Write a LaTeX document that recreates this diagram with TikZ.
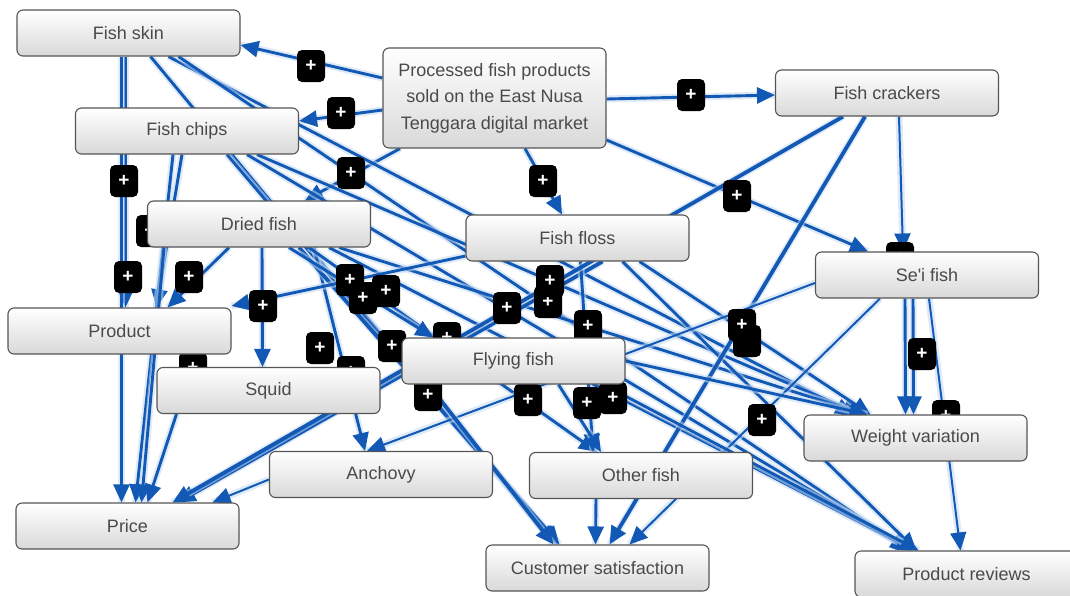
\documentclass[tikz,border=0pt]{standalone}
\usepackage{fontspec}
\setmainfont{Liberation Sans}
\usetikzlibrary{arrows.meta}
\definecolor{eblue}{HTML}{1258B5}
\definecolor{halo}{HTML}{C4DAF4}
\definecolor{txt}{HTML}{4A4A4A}
\definecolor{bord}{HTML}{555555}
\pgfdeclarelayer{bglayer}
\pgfdeclarelayer{edgelayer}
\pgfdeclarelayer{badgelayer}
\pgfsetlayers{bglayer,edgelayer,badgelayer,main}
\begin{document}
\begin{tikzpicture}[x=1pt,y=-1pt,
  box/.style={draw=bord, line width=1.1pt, rounded corners=6pt, top color=white, bottom color=black!15,
    minimum width=223pt, minimum height=46pt, inner sep=0pt, text=txt,
    font=\fontsize{18}{26.5}\selectfont, align=center},
  badge/.style={fill=black, rounded corners=5pt, minimum width=28pt, minimum height=32pt, inner sep=0pt,
    text=white, font=\fontsize{19}{19}\selectfont\bfseries},
  link/.style={draw=eblue, line width=2.9pt, -{Triangle[length=18pt,width=16pt]},
    preaction={draw=halo, line width=7pt, -, opacity=0.55}},
  heavylink/.style={link, line width=3.8pt},
  lightlink/.style={link, line width=2pt},
]
\useasboundingbox (0,0) rectangle (1070,595);
\begin{pgfonlayer}{bglayer}
\fill[white] (0,0) rectangle (1070,595);
\end{pgfonlayer}

% nodes
\node[box] (FS) at (128.5,33) {Fish skin};
\node[box, minimum height=100pt] (PF) at (494.5,98) {Processed fish products\\sold on the East Nusa\\Tenggara digital market};
\node[box] (CR) at (887,93) {Fish crackers};
\node[box] (FC) at (187,131) {Fish chips};
\node[box] (DF) at (259,224) {Dried fish};
\node[box] (FF) at (577.5,238) {Fish floss};
\node[box] (SE) at (927,275) {Se\textquotesingle i fish};
\node[box] (PR) at (119.5,331) {Product};
\node[box] (SQ) at (268.5,390.5) {Squid};
\node[box] (FL) at (513.5,361) {Flying fish};
\node[box] (AN) at (381,474.5) {Anchovy};
\node[box] (OF) at (641,475.5) {Other fish};
\node[box] (WV) at (915.5,438) {Weight variation};
\node[box] (PC) at (127.5,526) {Price};
\node[box] (CS) at (597.5,568) {Customer satisfaction};
\node[box] (RV) at (966.5,574) {Product reviews};

\begin{pgfonlayer}{edgelayer}
% from the processed products node
\draw[link] ([yshift=20]PF.west) -- ([yshift=-12]FS.east);
\draw[link] ([yshift=-12]PF.west) -- ([yshift=10]FC.east);
\draw[link] ([xshift=-94.5]PF.south) -- ([xshift=46]DF.north);
\draw[link] ([xshift=30.5]PF.south) -- ([xshift=-15.5]FF.north);
\draw[link] ([yshift=-1]PF.east) -- ([yshift=-2]CR.west);
\draw[link] ([yshift=-42]PF.east) -- ([xshift=-59]SE.north);
% fish skin
\draw[link] ([xshift=-3]FS.south) -- ([xshift=6]PR.north);
\draw[link] ([xshift=-7]FS.south) -- ([xshift=-6]PC.north);
\draw[link] ([xshift=22]FS.south) -- ([xshift=-42]CS.north);
\draw[link] ([xshift=40]FS.south) -- ([xshift=-62]WV.north);
\draw[link] ([xshift=50]FS.south) -- ([xshift=-58]RV.north);
% fish chips
\draw[link] ([xshift=-5]FC.south) -- ([xshift=37]PR.north);
\draw[link] ([xshift=-14]FC.south) -- ([xshift=8]PC.north);
\draw[link] ([xshift=40]FC.south) -- ([xshift=-40]CS.north);
\draw[link] ([xshift=70]FC.south) -- ([xshift=-55]WV.north);
\draw[link] ([xshift=60]FC.south) -- ([xshift=-55]RV.north);
% dried fish
\draw[link] ([xshift=-30]DF.south) -- ([xshift=48]PR.north);
\draw[link] ([xshift=-95]DF.south) -- ([xshift=14]PC.north);
\draw[link] ([xshift=3]DF.south) -- ([xshift=-6]SQ.north);
\draw[link] ([xshift=55]DF.south) -- ([xshift=-16]AN.north);
\draw[heavylink] ([xshift=40]DF.south) -- ([xshift=-38]CS.north);
\draw[link] ([xshift=50]DF.south) -- ([xshift=-44]OF.north);
\draw[link] ([xshift=80]DF.south) -- ([xshift=-50]WV.north);
\draw[link] ([xshift=70]DF.south) -- ([xshift=-52]RV.north);
\draw[link] ([xshift=30]DF.south) -- ([xshift=-80]FL.north);
% fish floss
\draw[link] ([yshift=-18]FF.west) -- ([yshift=25]PR.east);
\draw[heavylink] ([xshift=25]FF.south) -- ([xshift=50]PC.north);
\draw[link] ([xshift=3]FF.south) -- ([xshift=-48]OF.north);
\draw[link] ([xshift=62]FF.south) -- ([xshift=-45]WV.north);
\draw[link] ([xshift=45]FF.south) -- ([xshift=-50]RV.north);
% fish crackers
\draw[heavylink] ([xshift=-44]CR.south) -- ([xshift=45]PC.north);
\draw[heavylink] ([xshift=-22]CR.south) -- ([xshift=12]CS.north);
\draw[lightlink] ([xshift=12]CR.south) -- ([xshift=-24]SE.north);
% se'i fish
\draw[link] ([xshift=-22]SE.south) -- ([xshift=-10]WV.north);
\draw[link] ([xshift=-14]SE.south) -- ([xshift=-2]WV.north);
\draw[lightlink] ([xshift=2]SE.south) -- ([xshift=-6]RV.north);
\draw[lightlink] ([xshift=-47]SE.south) -- ([xshift=32]CS.north);
\draw[lightlink] ([yshift=-8]SE.west) -- ([xshift=-14]AN.north);
% flying fish
\draw[heavylink] ([xshift=-85]FL.south) -- ([xshift=-44]CS.north);
\draw[link] ([xshift=45]FL.south) -- ([xshift=-40]OF.north);
\draw[link] (FL.east) -- ([xshift=-48]WV.north);
\draw[link] ([xshift=90]FL.south) -- ([xshift=-48]RV.north);
% squid, anchovy, other fish
\draw[link] ([xshift=-92]SQ.south) -- ([xshift=20]PC.north);
\draw[lightlink] ([yshift=-5]AN.west) -- ([xshift=85]PC.north);
\draw[link] ([xshift=-45]OF.south) -- ([xshift=-2]CS.north);
\end{pgfonlayer}

\begin{pgfonlayer}{badgelayer}
\node[badge] (b0) at (747,341) {};
\foreach \bx/\by [count=\i] in {311/66, 341/113, 351/173, 543/181, 691/95, 737/196,
  124/181, 150/231, 128/277, 189/277, 263/306, 320/348, 193/368, 350/280, 363/298,
  386/291, 392/346, 428/395, 447/338, 351/372, 507/308, 548/302, 550/281, 588/326,
  528/400, 587/403, 613/398, 742/325, 762/420, 922/354, 900/258, 946/416}
  \node[badge] (b\i) at (\bx,\by) {+};
\end{pgfonlayer}
\end{tikzpicture}
\end{document}
